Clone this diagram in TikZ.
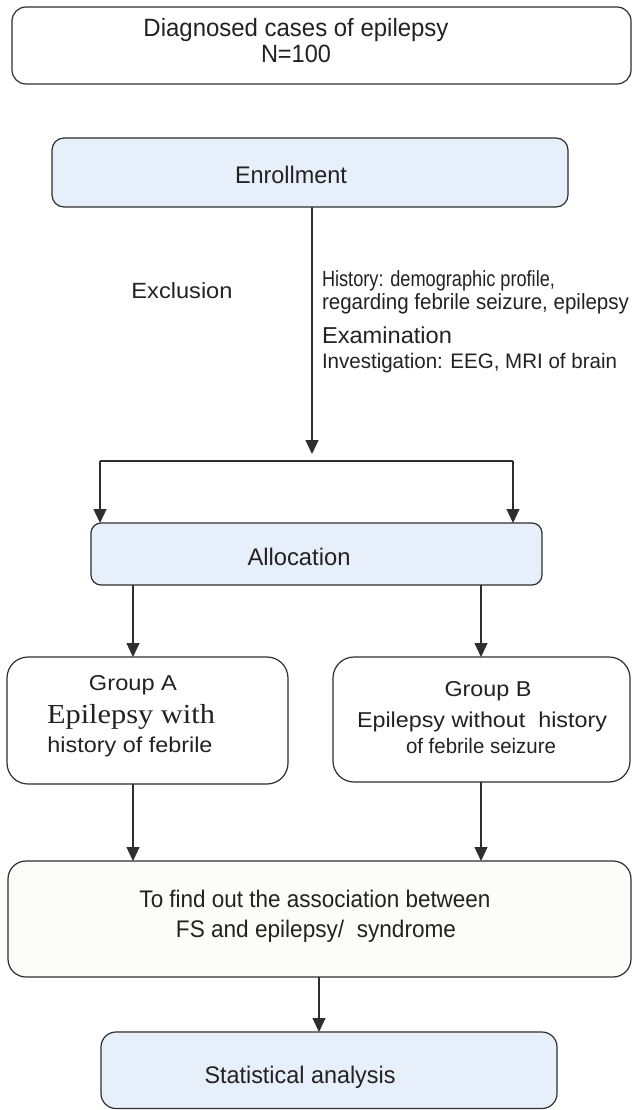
\documentclass[tikz,border=0pt]{standalone}
\usepackage{fontspec}
\usepackage{graphicx}
\setmainfont{Liberation Sans}
\newfontfamily\serifA{Liberation Serif}
\usetikzlibrary{arrows.meta}
\definecolor{lineC}{HTML}{2E2E2E}
\definecolor{textC}{HTML}{222222}
\definecolor{blueF}{HTML}{E7F0FA}
\definecolor{grayF}{HTML}{FCFCFB}
\tikzset{
  x=1pt, y=-1pt,
  boxbase/.style={draw=lineC, line width=1.2pt},
  txt/.style={inner sep=0pt, outer sep=0pt, text=textC, anchor=base},
  conn/.style={draw=lineC, line width=1.2pt, -{Triangle[width=13pt,length=14pt]}},
  plain/.style={draw=lineC, line width=1.2pt},
}
% width-fitted text: width, font size, text
\newcommand{\fitT}[3]{\resizebox{#1pt}{\height}{\fontsize{#2}{#2}\selectfont #3}}
\begin{document}
\begin{tikzpicture}
\useasboundingbox (0,0) rectangle (632,1110);
% boxes
\draw[boxbase, fill=white, rounded corners=14pt] (12,7) rectangle (631,84);
\draw[boxbase, fill=blueF, rounded corners=12pt] (52,138) rectangle (568,207);
\draw[boxbase, fill=blueF, rounded corners=10pt] (91,523) rectangle (542,585);
\draw[boxbase, fill=white, rounded corners=21pt] (7,657) rectangle (288,784);
\draw[boxbase, fill=white, rounded corners=21pt] (333,657) rectangle (630,782);
\draw[boxbase, fill=grayF, rounded corners=18pt] (8,861) rectangle (631,977);
\draw[boxbase, fill=blueF, rounded corners=15pt] (101,1032) rectangle (557,1108.5);

% anchor coordinates
\coordinate (enrBot) at (312,207);
\coordinate (split) at (312,461);
\coordinate (splitL) at (100,461);
\coordinate (splitR) at (513,461);
\coordinate (allocTL) at (100,523);
\coordinate (allocTR) at (513,523);
\coordinate (allocBL) at (133,585);
\coordinate (allocBR) at (481,585);
\coordinate (gATop) at (133,657);
\coordinate (gBTop) at (481,657);
\coordinate (gABot) at (133,784);
\coordinate (gBBot) at (481,782);
\coordinate (bigTL) at (133,861);
\coordinate (bigTR) at (481,861);
\coordinate (bigBot) at (319,977);
\coordinate (statTop) at (319,1032);

% texts
\node[txt] (t1) at (296,37) {\fitT{305}{25}{Diagnosed cases of epilepsy}};
\node[txt] (t2) at (296,63) {\fitT{70}{25}{N=100}};
\node[txt] (enr) at (291,184) {\fitT{112}{24}{Enrollment}};
\node[txt] (excl) at (182,298) {\fitT{101}{22}{Exclusion}};
\node[txt, anchor=base west] (h1) at (322,286) {\fitT{233}{22}{History: demographic profile,}};
\node[txt, anchor=base west] (h2) at (322,309) {\fitT{307}{22}{regarding febrile seizure, epilepsy}};
\node[txt, anchor=base west] (h3) at (322,343) {\fitT{130}{23}{Examination}};
\node[txt, anchor=base west] (h4) at (322,368) {\fitT{295}{21}{Investigation: EEG, MRI of brain}};
\node[txt] (alloc) at (299,565) {\fitT{103}{24}{Allocation}};
\node[txt] (ga1) at (133,690) {\fitT{88}{21.5}{Group A}};
\node[txt] (ga2) at (131,723) {\serifA\fitT{168}{27.5}{Epilepsy with}};
\node[txt] (ga3) at (130,752) {\fitT{165}{21.5}{history of febrile}};
\node[txt] (gb1) at (488,696) {\fitT{87}{21.5}{Group B}};
\node[txt] (gb2) at (482,727) {\fitT{250}{21.5}{Epilepsy without\ \ history}};
\node[txt] (gb3) at (481,753) {\fitT{150}{21}{of febrile seizure}};
\node[txt] (b1) at (315,907) {\fitT{351}{24}{To find out the association between}};
\node[txt] (b2) at (316,937) {\fitT{280}{24}{FS and epilepsy/\ \ syndrome}};
\node[txt] (stat) at (300,1083) {\fitT{191}{24}{Statistical analysis}};

% connectors
\draw[conn, shorten >=7pt] (enrBot) -- (split);
\draw[plain] (splitL) -- (splitR);
\draw[conn] (splitL) -- (allocTL);
\draw[conn] (splitR) -- (allocTR);
\draw[conn] (allocBL) -- (gATop);
\draw[conn] (allocBR) -- (gBTop);
\draw[conn] (gABot) -- (bigTL);
\draw[conn] (gBBot) -- (bigTR);
\draw[conn] (bigBot) -- (statTop);
\end{tikzpicture}
\end{document}
